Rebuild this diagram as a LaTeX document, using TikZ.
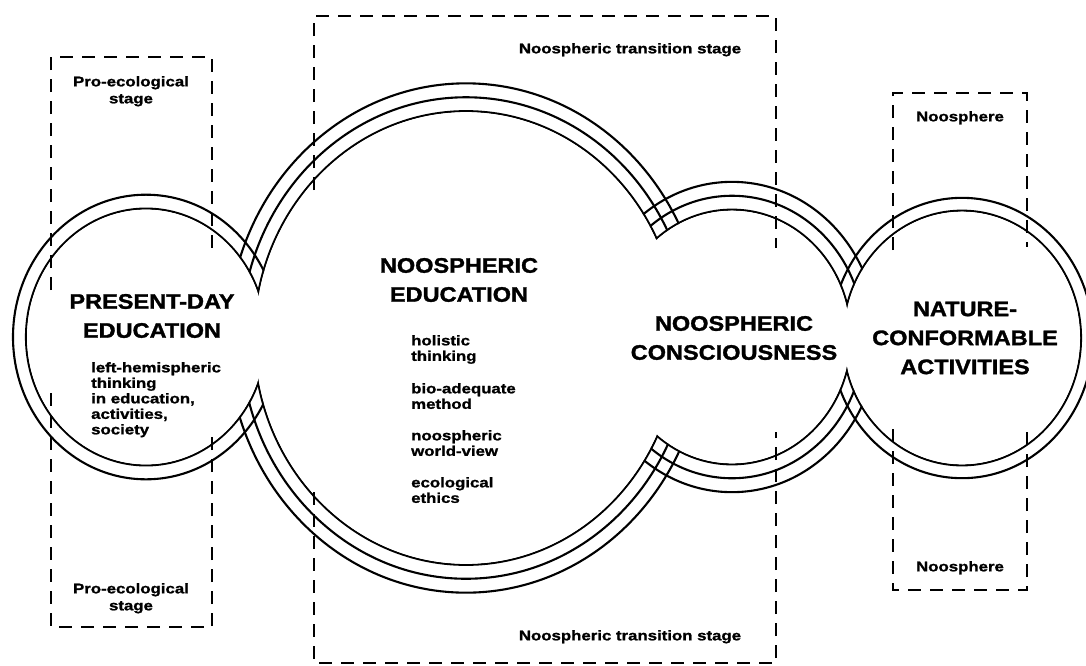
\documentclass[tikz,border=0pt]{standalone}
\usepackage{fontspec}
\setmainfont{Liberation Sans}
\newfontfamily\bigfont[FakeStretch=1.12,BoldFeatures={FakeBold=1.5}]{Liberation Sans}
\newfontfamily\smallfont[FakeStretch=1.2,BoldFeatures={FakeBold=1.2}]{Liberation Sans}
\begin{document}
\begin{tikzpicture}[x=1pt,y=-1pt,
  ring/.style={line width=2.1pt},
  frame/.style={line width=2.8pt, dash pattern=on 13pt off 9pt},
  bigtext/.style={font=\bigfont\bfseries\fontsize{21}{29}\selectfont, align=center, inner sep=0pt},
  smalltext/.style={font=\smallfont\bfseries\fontsize{14}{15.5}\selectfont, align=left, inner sep=0pt},
  tagtext/.style={font=\smallfont\bfseries\fontsize{14}{17}\selectfont, align=center, inner sep=0pt}]
\useasboundingbox (0,0) rectangle (1086,665);
\clip (0,0) rectangle (1086,665);
\fill[white] (0,0) rectangle (1086,665);
% centres
\coordinate (cL) at (146,337);
\coordinate (cB) at (466,338);
\coordinate (cC) at (732,337);
\coordinate (cN) at (962,338);
% rings
\foreach \k in {0,1}
  \draw[ring] (cL) ellipse [x radius={120+13*\k}, y radius={1.07*(120+13*\k)}];
\foreach \k in {0,1,2}
  \draw[ring] (cB) ellipse [x radius={212+13*\k}, y radius={1.07*(212+13*\k)}];
\foreach \k in {0,1,2}
  \draw[ring] (cC) ellipse [x radius={119+13*\k}, y radius={1.07*(119+13*\k)}];
\foreach \k in {0,1}
  \draw[ring] (cN) ellipse [x radius={119+12*\k}, y radius={1.07*(119+12*\k)}];
% inner holes
\fill[white] (cL) ellipse [x radius=119, y radius={1.07*120-1}];
\fill[white] (cB) ellipse [x radius=211, y radius={1.07*212-1}];
\fill[white] (cC) ellipse [x radius=118, y radius={1.07*119-1}];
\fill[white] (cN) ellipse [x radius=118, y radius={1.07*119-1}];
% dashed frames
\draw[frame] (51,290) -- (51,57) -- (212,57) -- (212,254);
\draw[frame] (51,393) -- (51,627) -- (212,627) -- (212,430);
\draw[frame] (314,190) -- (314,16) -- (776,16) -- (776,248);
\draw[frame] (314,492) -- (314,663) -- (776,663) -- (776,432);
\draw[frame] (893,250) -- (893,93) -- (1027,93) -- (1027,247);
\draw[frame] (893,429) -- (893,590) -- (1027,590) -- (1027,426);
% labels
\node[tagtext, anchor=north] (proTop) at (131,76) {Pro-ecological\\stage};
\node[tagtext, anchor=north] (proBot) at (131,583) {Pro-ecological\\stage};
\node[tagtext, anchor=north] (transTop) at (630,43) {Noospheric transition stage};
\node[tagtext, anchor=north] (transBot) at (630,630) {Noospheric transition stage};
\node[tagtext, anchor=north] (nooTop) at (960,111) {Noosphere};
\node[tagtext, anchor=north] (nooBot) at (960,561) {Noosphere};
\node[bigtext] (present) at (152,316) {PRESENT-DAY\\EDUCATION};
\node[smalltext, anchor=north west] (left) at (91,362) {left-hemispheric\\thinking\\in education,\\activities,\\society};
\node[bigtext] (nooEdu) at (459,280) {NOOSPHERIC\\EDUCATION};
\node[smalltext, anchor=north west] (holistic) at (411,335) {holistic\\thinking};
\node[smalltext, anchor=north west] (bio) at (411,383) {bio-adequate\\method};
\node[smalltext, anchor=north west] (world) at (411,430) {noospheric\\world-view};
\node[smalltext, anchor=north west] (ethics) at (411,477) {ecological\\ethics};
\node[bigtext] (cons) at (734,338) {NOOSPHERIC\\CONSCIOUSNESS};
\node[bigtext] (nature) at (965,338) {NATURE-\\CONFORMABLE\\ACTIVITIES};
\end{tikzpicture}
\end{document}
